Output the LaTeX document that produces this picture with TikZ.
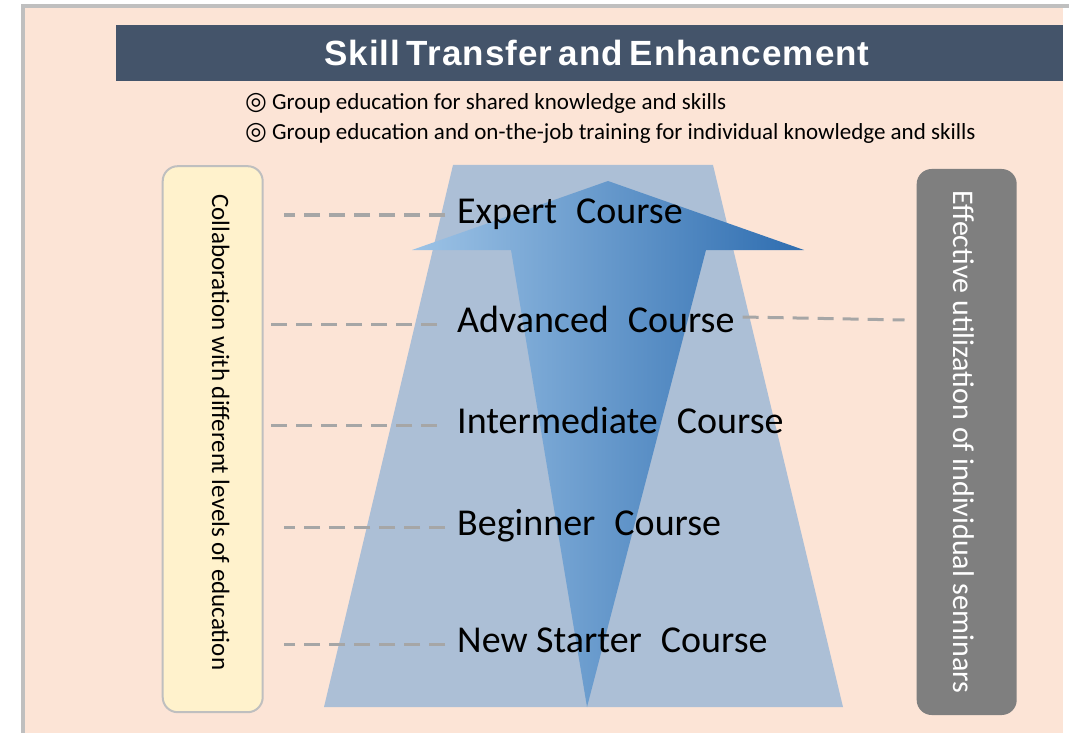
\documentclass[tikz,border=0pt]{standalone}
\usepackage{fontspec}
\setmainfont{Carlito}
\newfontfamily\titlefont[LetterSpace=3,WordSpace=0.6]{Liberation Sans}
\newfontfamily\symfont{DejaVu Sans}
\usetikzlibrary{positioning}
\definecolor{peach}{HTML}{FCE4D6}
\definecolor{framegray}{HTML}{BFBFBF}
\definecolor{slate}{HTML}{44546A}
\definecolor{trapblue}{HTML}{ACBFD6}
\definecolor{arrowlight}{HTML}{9DC3E6}
\definecolor{arrowdark}{HTML}{2E6DB0}
\definecolor{paleyellow}{HTML}{FFF2CC}
\definecolor{seminargray}{HTML}{7F7F7F}
\definecolor{dashgray}{HTML}{A6A6A6}

\begin{document}
\begin{tikzpicture}[x=1pt, y=-1pt]
    \tikzstyle{bullet}=[anchor=west, inner sep=0pt, font=\fontsize{23}{25}\selectfont]
    \tikzstyle{course}=[anchor=west, inner sep=0pt, text height=21pt, text depth=4pt, font=\fontsize{38}{40}\selectfont]
    \tikzstyle{sidebox}=[rounded corners=15pt, minimum width=100pt, minimum height=546pt]
    \tikzstyle{link}=[draw=dashgray, line width=3pt, dash pattern=on 16pt off 9pt]
    \useasboundingbox (0,0) rectangle (1069,733);
    % frame and page
    \fill[white] (0,0) rectangle (1069,733);
    \fill[framegray] (21,4) rectangle (1069,733);
    \fill[peach] (25,8) rectangle (1063,733);
    \fill[white] (1063,8) rectangle (1069,733);
    % title
    \fill[slate] (116,25) rectangle (1063,81);
    \node[text=white, font=\titlefont\bfseries\fontsize{35}{38}\selectfont] (title) at (597,53) {Skill Transfer and Enhancement};
    \node[bullet] (shared) at (245,103) {{\symfont\fontsize{25}{26}\selectfont ◎} Group education for shared knowledge and skills};
    \node[bullet, below=30pt of shared.west, anchor=west] (individual) {{\symfont\fontsize{25}{26}\selectfont ◎} Group education and on-the-job training for individual knowledge and skills};
    % levels and arrow
    \fill[trapblue] (453,165) -- (713,165) -- (843,707) -- (324,707) -- cycle;
    \shade[left color=arrowlight, right color=arrowdark] (608,181) -- (804,250) -- (706,250) -- (587,707) -- (511,250) -- (412,250) -- cycle;
    % side boxes
    \node[sidebox, draw=framegray, line width=2pt, fill=paleyellow] (collab) at (212.7,439.2) {};
    \node[rotate=-90, inner sep=0pt, font=\fontsize{25}{27}\selectfont] (collabtext) at ([xshift=8pt,yshift=7pt]collab.center) {Collaboration with different levels of education};
    \node[sidebox, fill=seminargray] (seminar) at (966.7,442) {};
    \node[rotate=-90, inner sep=0pt, text=white, font=\fontsize{30}{32}\selectfont] (seminartext) at ([xshift=-3pt]seminar.center) {Effective utilization of individual seminars};
    % courses
    \node[course] (expert) at (457,215) {Expert\enspace Course};
    \node[course] (advanced) at (457,324) {Advanced\enspace Course};
    \node[course] (intermediate) at (457,425) {Intermediate\enspace Course};
    \node[course] (beginner) at (457,527) {Beginner\enspace Course};
    \node[course] (starter) at (457,644) {New Starter\enspace Course};
    \draw[link] ([xshift=-12pt]expert.west) -- ([xshift=20pt]expert.west -| collab.east);
    \draw[link] ([xshift=-20pt]advanced.west) -- (advanced.west -| collab.east);
    \draw[link] ([xshift=-20pt]intermediate.west) -- (intermediate.west -| collab.east);
    \draw[link] ([xshift=-12pt]beginner.west) -- ([xshift=20pt]beginner.west -| collab.east);
    \draw[link] ([xshift=-12pt]starter.west) -- ([xshift=20pt]starter.west -| collab.east);
    \draw[link] ([xshift=8pt,yshift=7pt]advanced.east) -- ([xshift=-12pt,yshift=4pt]advanced.east -| seminar.west);
\end{tikzpicture}
\end{document}
